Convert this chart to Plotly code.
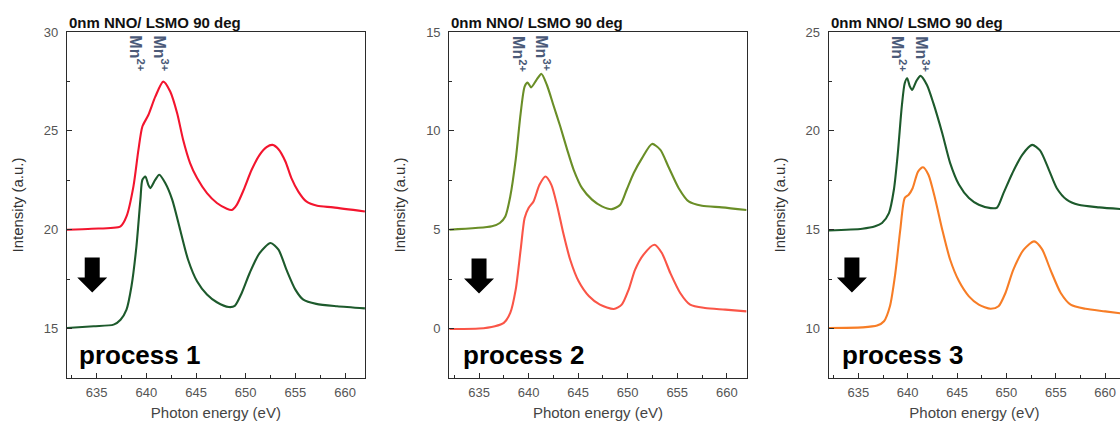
import plotly.graph_objects as go

# ---- Mn L-edge XAS spectra, photon energy (eV) vs intensity (a.u.) ----
# process 1
p1_top_e = [632.0, 634.5, 637.4, 638.0, 638.7, 639.2, 639.6, 640.2, 640.9, 641.7, 642.4, 643.1,
            643.7, 644.4, 645.1, 646.1, 647.1, 648.1, 648.6, 649.1, 649.8, 650.6, 651.4, 652.1,
            652.7, 653.3, 654.0, 654.6, 655.3, 656.1, 657.2, 658.8, 662.0]
p1_top_i = [20.0, 20.05, 20.17, 20.67, 22.19, 24.04, 25.22, 25.8, 26.73, 27.49, 26.99, 25.89,
            24.55, 23.37, 22.61, 21.85, 21.35, 21.06, 21.0, 21.26, 22.02, 23.03, 23.79, 24.18,
            24.29, 24.07, 23.45, 22.61, 21.93, 21.43, 21.21, 21.13, 20.92]
p1_bot_e = [632.0, 634.7, 636.7, 637.4, 638.0, 638.5, 639.0, 639.4, 639.6, 639.9, 640.2, 640.4,
            640.9, 641.3, 641.9, 642.6, 643.4, 644.2, 645.1, 646.1, 647.1, 648.3, 648.9, 649.6,
            650.4, 651.4, 652.5, 653.3, 654.1, 655.0, 655.8, 657.1, 659.2, 662.0]
p1_bot_i = [15.03, 15.12, 15.2, 15.45, 15.96, 17.14, 19.16, 21.52, 22.53, 22.69, 22.27, 22.1,
            22.53, 22.78, 22.36, 21.52, 20.0, 18.48, 17.39, 16.72, 16.33, 16.09, 16.15, 16.8,
            17.81, 18.82, 19.33, 18.99, 17.98, 16.97, 16.46, 16.25, 16.13, 16.02]

# process 2
p2_top_e = [632.0, 636.3, 637.1, 637.65, 638.15, 638.7, 639.2, 639.6, 639.9, 640.25, 640.8, 641.3,
            641.85, 642.5, 643.2, 643.9, 644.55, 645.4, 646.4, 647.4, 648.4, 649.25, 649.9, 650.6,
            651.45, 652.45, 653.3, 654.1, 655.15, 656.15, 657.5, 659.5, 662.0]
p2_top_i = [5.0, 5.17, 5.34, 5.67, 6.68, 8.54, 10.89, 12.24, 12.44, 12.2, 12.58, 12.88,
            12.32, 11.31, 10.22, 9.04, 8.03, 7.1, 6.52, 6.18, 6.04, 6.26, 7.02, 7.86,
            8.62, 9.34, 9.04, 8.2, 7.1, 6.43, 6.21, 6.13, 6.0]
p2_bot_e = [632.0, 635.0, 636.6, 637.5, 638.15, 638.7, 639.2, 639.6, 640.0, 640.5, 641.1, 641.7,
            642.3, 642.9, 643.5, 644.2, 645.05, 646.1, 647.2, 648.6, 649.4, 650.1, 650.75, 651.6,
            652.7, 653.45, 654.3, 655.3, 656.3, 657.8, 659.85, 662.0]
p2_bot_i = [-0.02, 0.0, 0.12, 0.29, 0.79, 1.97, 3.99, 5.59, 6.1, 6.43, 7.27, 7.69,
            7.27, 6.18, 4.83, 3.48, 2.39, 1.63, 1.21, 0.99, 1.21, 1.97, 2.98, 3.74,
            4.24, 3.82, 2.81, 1.8, 1.21, 1.04, 0.96, 0.87]

# process 3
p3_top_e = [632.0, 635.4, 636.7, 637.4, 638.1, 638.6, 639.0, 639.4, 639.7, 639.95, 640.2, 640.45,
            640.9, 641.3, 641.95, 642.6, 643.5, 644.3, 645.2, 646.2, 647.2, 648.4, 649.05, 649.7,
            650.6, 651.6, 652.6, 653.4, 654.3, 655.1, 656.1, 657.3, 659.4, 662.0]
p3_top_i = [14.96, 15.05, 15.17, 15.34, 15.84, 17.02, 18.87, 21.23, 22.41, 22.66, 22.27, 22.07,
            22.54, 22.78, 22.32, 21.4, 19.88, 18.37, 17.27, 16.6, 16.26, 16.09, 16.12, 16.85,
            17.86, 18.79, 19.29, 19.01, 18.03, 17.1, 16.52, 16.26, 16.13, 16.03]
p3_bot_e = [632.0, 635.4, 636.9, 637.6, 638.2, 638.75, 639.25, 639.7, 640.1, 640.5, 641.05, 641.55,
            642.1, 642.8, 643.5, 644.3, 645.2, 646.2, 647.2, 648.4, 649.2, 649.9, 650.7, 651.75,
            652.8, 653.6, 654.45, 655.5, 656.5, 658.0, 660.0, 662.0]
p3_bot_i = [10.03, 10.06, 10.15, 10.37, 11.13, 12.81, 15.0, 16.6, 16.77, 17.1, 17.94, 18.16,
            17.78, 16.52, 15.0, 13.48, 12.39, 11.63, 11.21, 11.0, 11.13, 11.8, 12.98, 13.99,
            14.41, 14.02, 12.98, 11.8, 11.21, 11.0, 10.87, 10.74]

panel_titles = ["0nm NNO/ LSMO 90 deg"] * 3
process_labels = ["process 1", "process 2", "process 3"]
y_ranges = [[12.5, 30], [-2.5, 15], [7.5, 25]]
y_tick_starts = [15, 0, 10]
x_ranges = [[632, 662], [632, 662], [632, 661.5]]
arrow_pos = [(634.55, 18.6), (635.0, 3.55), (634.35, 13.6)]

panels = [
    [(p1_top_e, p1_top_i, "#f3152e"), (p1_bot_e, p1_bot_i, "#1d5a2c")],
    [(p2_top_e, p2_top_i, "#6a8e27"), (p2_bot_e, p2_bot_i, "#fa5547")],
    [(p3_top_e, p3_top_i, "#1d5a2c"), (p3_bot_e, p3_bot_i, "#f77d26")],
]

W, H = 1120, 426
M_TOP, M_BOT = 32, 48
domains_px = [(66.9, 364.9), (449.3, 746.6), (828.7, 1120.0)]
FONT = "Liberation Sans, Arial, sans-serif"
AXIS_COLOR = "#2b2b2b"

fig = go.Figure()

for k, curves in enumerate(panels):
    sfx = "" if k == 0 else str(k + 1)
    for e, i, color in curves:
        fig.add_trace(go.Scatter(
            x=e, y=i, mode="lines", xaxis="x" + sfx, yaxis="y" + sfx,
            line=dict(color=color, width=2.1, shape="spline", smoothing=0.7),
            showlegend=False, hoverinfo="skip",
        ))

    d0, d1 = domains_px[k]
    fig.update_layout({
        "xaxis" + sfx: dict(
            domain=[d0 / W, min(d1 / W, 1.0)], range=x_ranges[k], anchor="y" + sfx,
            showgrid=False, zeroline=False, showline=True, linecolor=AXIS_COLOR, linewidth=1.2,
            mirror=True, ticks="inside", ticklen=5, tickcolor=AXIS_COLOR, tickwidth=1,
            dtick=5, tick0=635, ticklabelstandoff=2,
            minor=dict(ticks="inside", ticklen=3, dtick=2.5, tick0=632.5, tickcolor=AXIS_COLOR),
            tickfont=dict(family=FONT, size=13, color="#555555"),
            title=dict(text="Photon energy (eV)", font=dict(family=FONT, size=15, color="#444444"),
                       standoff=8),
        ),
        "yaxis" + sfx: dict(
            domain=[0, 1], range=y_ranges[k], anchor="x" + sfx,
            showgrid=False, zeroline=False, showline=True, linecolor=AXIS_COLOR, linewidth=1.2,
            mirror=(k < 2), ticks="inside", ticklen=5, tickcolor=AXIS_COLOR, tickwidth=1,
            dtick=5, tick0=y_tick_starts[k], ticklabelstandoff=5,
            minor=dict(ticks="inside", ticklen=3, dtick=2.5, tickcolor=AXIS_COLOR),
            tickfont=dict(family=FONT, size=13, color="#555555"),
            title=dict(text="Intensity (a.u.)", font=dict(family=FONT, size=15, color="#333333"),
                       standoff=16),
        ),
    })

    xr, yr = "x" + sfx, "y" + sfx
    # panel title
    fig.add_annotation(text="<b>" + panel_titles[k] + "</b>", xref=xr + " domain", yref="paper",
                       x=0, y=1, xanchor="left", yanchor="middle", yshift=10, showarrow=False,
                       font=dict(family=FONT, size=15, color="#111111"))
    # process label
    fig.add_annotation(text="<b>" + process_labels[k] + "</b>", xref=xr + " domain", yref=yr + " domain",
                       x=(10 + (1 if k else 0) * 2) / 298, y=0.066, xanchor="left", yanchor="middle",
                       showarrow=False, font=dict(family=FONT, size=26, color="#000000"))
    # Mn valence markers
    for lbl, ex in (("Mn<sup>2+</sup>", 639.1), ("Mn<sup>3+</sup>", 641.5)):
        fig.add_annotation(text="<b>" + lbl + "</b>", xref=xr, yref=yr + " domain",
                           x=ex, y=0.995, xanchor="center", yanchor="top", textangle=90,
                           showarrow=False, font=dict(family=FONT, size=16, color="#4b5a78"))
    # downward arrow
    ax, ay = arrow_pos[k]
    fig.add_shape(type="path", xref=xr, yref=yr, xsizemode="pixel", ysizemode="pixel",
                  xanchor=ax, yanchor=ay,
                  path="M -7.5,0 L 7.5,0 L 7.5,-20 L 15,-20 L 0,-35 L -15,-20 L -7.5,-20 Z",
                  fillcolor="#000000", line=dict(width=0))

fig.update_layout(
    width=W, height=H, margin=dict(l=0, r=0, t=M_TOP, b=M_BOT),
    paper_bgcolor="white", plot_bgcolor="white", showlegend=False,
)

fig.write_html("out.html")
